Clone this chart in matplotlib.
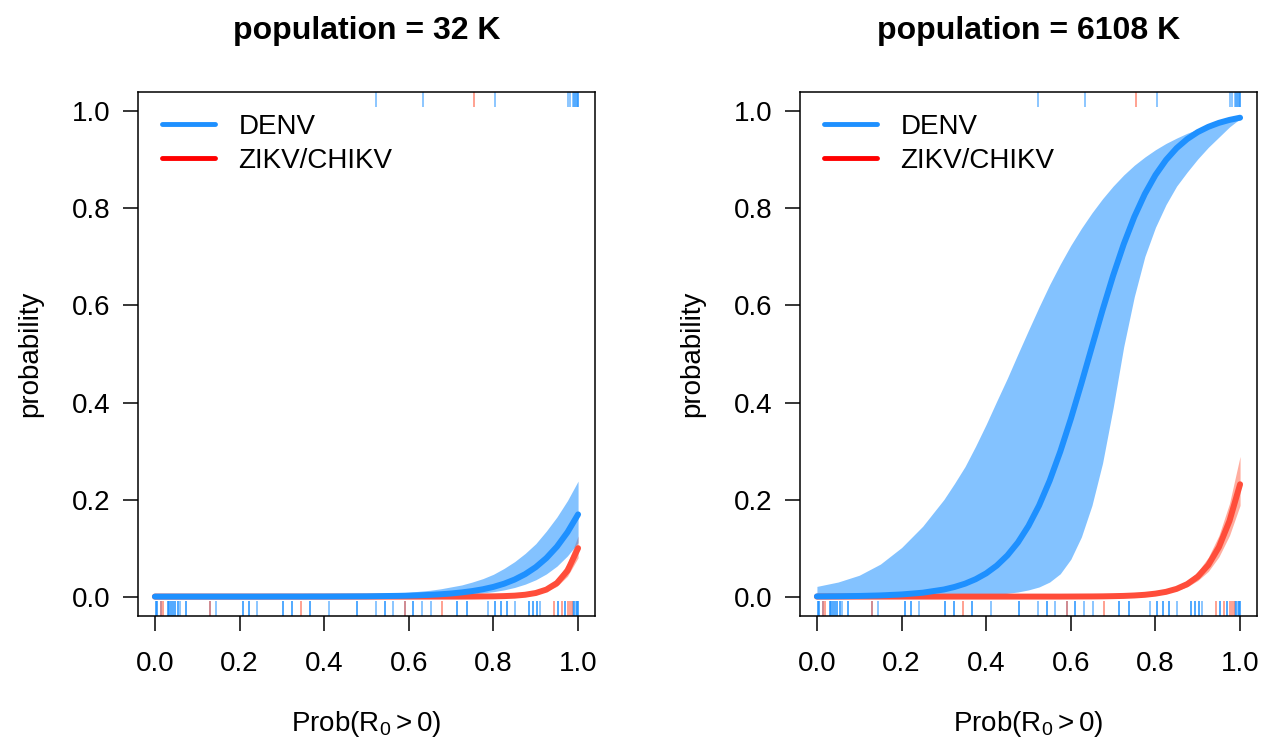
import matplotlib
matplotlib.use("Agg")
import matplotlib.pyplot as plt
from matplotlib.lines import Line2D

plt.rcParams['font.family'] = ['Liberation Sans', 'DejaVu Sans']
plt.rcParams['mathtext.fontset'] = 'custom'
plt.rcParams['mathtext.rm'] = 'Liberation Sans'
plt.rcParams['mathtext.it'] = 'Liberation Sans:italic'
plt.rcParams['mathtext.bf'] = 'Liberation Sans:bold'

# x grid of Prob(R0 > 0) where the fitted curves were read
xs = [0.0, 0.05, 0.1, 0.15, 0.2, 0.25, 0.3, 0.325, 0.35, 0.375, 0.4, 0.425, 0.45, 0.475,
      0.5, 0.525, 0.55, 0.575, 0.6, 0.625, 0.65, 0.675, 0.7, 0.725, 0.75, 0.775,
      0.8, 0.825, 0.85, 0.875, 0.9, 0.925, 0.95, 0.975, 1.0]

# population = 32 K
denv_mean_32 = [0.0, 0.0, 0.0, 0.0, 0.0, 0.0, 0.0001, 0.0001, 0.0001, 0.0002, 0.0002, 0.0003, 0.0004, 0.0005,
                0.0006, 0.0009, 0.0012, 0.0015, 0.0020, 0.0027, 0.0036, 0.0048, 0.0064, 0.0086, 0.0114, 0.0151,
                0.0200, 0.0265, 0.0351, 0.0463, 0.0607, 0.0793, 0.1029, 0.1327, 0.1694]
denv_lo_32 = [0.0, 0.0, 0.0, 0.0, 0.0, 0.0, 0.0, 0.0, 0.0, 0.0, 0.0001, 0.0001, 0.0001, 0.0001,
              0.0002, 0.0003, 0.0004, 0.0006, 0.0008, 0.0011, 0.0015, 0.0021, 0.0029, 0.0040, 0.0055, 0.0075,
              0.0101, 0.0138, 0.0188, 0.0256, 0.0346, 0.0467, 0.0627, 0.084, 0.111]
denv_hi_32 = [0.0002, 0.0003, 0.0004, 0.0005, 0.0007, 0.0009, 0.0012, 0.0014, 0.0016, 0.0019, 0.0023, 0.0027, 0.0032, 0.0038,
              0.0045, 0.0053, 0.0063, 0.0075, 0.009, 0.011, 0.013, 0.016, 0.020, 0.024, 0.030, 0.037,
              0.046, 0.058, 0.072, 0.089, 0.109, 0.135, 0.164, 0.198, 0.238]
zika_mean_32 = [0.0, 0.0, 0.0, 0.0, 0.0, 0.0, 0.0, 0.0, 0.0, 0.0, 0.0, 0.0, 0.0, 0.0,
                0.0, 0.0, 0.0, 0.0, 0.0, 0.0, 0.0, 0.0, 0.0, 0.0, 0.0001, 0.0003,
                0.0005, 0.0010, 0.0019, 0.0038, 0.0074, 0.0144, 0.0279, 0.0534, 0.0998]
zika_lo_32 = [0.0, 0.0, 0.0, 0.0, 0.0, 0.0, 0.0, 0.0, 0.0, 0.0, 0.0, 0.0, 0.0, 0.0,
              0.0, 0.0, 0.0, 0.0, 0.0, 0.0, 0.0, 0.0, 0.0, 0.0, 0.0001, 0.0002,
              0.0003, 0.0007, 0.0013, 0.0027, 0.0055, 0.011, 0.021, 0.042, 0.080]
zika_hi_32 = [0.0, 0.0, 0.0, 0.0, 0.0, 0.0, 0.0, 0.0, 0.0, 0.0, 0.0, 0.0, 0.0, 0.0,
              0.0, 0.0, 0.0, 0.0, 0.0, 0.0, 0.0, 0.0, 0.0, 0.0001, 0.0002, 0.0004,
              0.0008, 0.0015, 0.0028, 0.0053, 0.010, 0.019, 0.036, 0.068, 0.125]

# population = 6108 K
denv_mean_6108 = [0.0004, 0.0007, 0.0013, 0.0024, 0.0044, 0.0080, 0.0146, 0.0198, 0.0266, 0.0358, 0.0479, 0.0639, 0.0848, 0.1116,
                  0.1457, 0.1878, 0.2389, 0.2986, 0.3661, 0.4393, 0.5152, 0.5905, 0.6617, 0.7263, 0.7826, 0.8300,
                  0.8689, 0.8999, 0.9243, 0.9430, 0.9574, 0.9682, 0.9764, 0.9825, 0.9870]
denv_lo_6108 = [0.0, 0.0, 0.0001, 0.0001, 0.0002, 0.0004, 0.0008, 0.0011, 0.0016, 0.0023, 0.0033, 0.0047, 0.0067, 0.0095,
                0.0138, 0.0198, 0.030, 0.047, 0.077, 0.123, 0.188, 0.275, 0.389, 0.515, 0.618, 0.701,
                0.761, 0.808, 0.846, 0.875, 0.902, 0.926, 0.947, 0.968, 0.985]
denv_hi_6108 = [0.021, 0.030, 0.044, 0.067, 0.101, 0.145, 0.200, 0.233, 0.268, 0.310, 0.355, 0.403, 0.450, 0.500,
                0.549, 0.597, 0.643, 0.685, 0.724, 0.759, 0.791, 0.820, 0.846, 0.869, 0.889, 0.906,
                0.921, 0.934, 0.945, 0.955, 0.963, 0.970, 0.976, 0.982, 0.987]
zika_mean_6108 = [0.0, 0.0, 0.0, 0.0, 0.0, 0.0, 0.0, 0.0, 0.0, 0.0, 0.0, 0.0, 0.0, 0.0,
                  0.0, 0.0, 0.0, 0.0, 0.0001, 0.0002, 0.0003, 0.0005, 0.0009, 0.0014, 0.0023, 0.0037,
                  0.0061, 0.0098, 0.0159, 0.0257, 0.0411, 0.0652, 0.102, 0.156, 0.2315]
zika_lo_6108 = [0.0, 0.0, 0.0, 0.0, 0.0, 0.0, 0.0, 0.0, 0.0, 0.0, 0.0, 0.0, 0.0, 0.0,
                0.0, 0.0, 0.0, 0.0, 0.0001, 0.0001, 0.0002, 0.0004, 0.0007, 0.0011, 0.0018, 0.003,
                0.0048, 0.0078, 0.0125, 0.020, 0.033, 0.052, 0.082, 0.126, 0.188]
zika_hi_6108 = [0.0, 0.0, 0.0, 0.0, 0.0, 0.0, 0.0, 0.0, 0.0, 0.0, 0.0, 0.0, 0.0, 0.0,
                0.0, 0.0, 0.0, 0.0, 0.0001, 0.0002, 0.0004, 0.0006, 0.001, 0.0017, 0.0028, 0.0045,
                0.0075, 0.012, 0.020, 0.032, 0.051, 0.081, 0.126, 0.192, 0.289]

# rug data (same locations in both panels)
denv_fail = [0.002, 0.002, 0.005, 0.005, 0.014, 0.030, 0.030, 0.034, 0.034, 0.037, 0.037, 0.042, 0.042,
             0.047, 0.047, 0.054, 0.054, 0.059, 0.073, 0.073, 0.130, 0.144, 0.207, 0.207, 0.223, 0.223,
             0.242, 0.303, 0.303, 0.323, 0.323, 0.366, 0.366, 0.411, 0.478, 0.478, 0.522, 0.544, 0.544,
             0.563, 0.591, 0.611, 0.611, 0.630, 0.652, 0.713, 0.713, 0.737, 0.737, 0.786, 0.804, 0.804,
             0.818, 0.818, 0.831, 0.831, 0.851, 0.883, 0.883, 0.894, 0.894, 0.904, 0.904, 0.910, 0.952,
             0.952, 0.969, 0.969, 0.988, 0.991, 0.991, 0.994, 0.997, 0.997, 1.0, 1.0]
zika_fail = [0.014, 0.019, 0.130, 0.346, 0.591, 0.678, 0.944, 0.963, 0.977, 0.981, 0.985]
denv_ok = [0.522, 0.633, 0.804, 0.976, 0.981, 0.987, 0.990, 0.993, 0.996, 0.998, 1.0, 1.0]
zika_ok = [0.753]

panels = [
    ("population = 32 K", denv_mean_32, denv_lo_32, denv_hi_32, zika_mean_32, zika_lo_32, zika_hi_32),
    ("population = 6108 K", denv_mean_6108, denv_lo_6108, denv_hi_6108, zika_mean_6108, zika_lo_6108, zika_hi_6108),
]

BLUE = '#1E90FF'
RED_LINE = '#FF4D3A'
RED_BAND = '#FFAD9F'
FS = 20

W, H = 1270, 741
fig = plt.figure(figsize=(W / 100, H / 100), dpi=100)
lefts = [138, 800]
ax_w, ax_top, ax_bot = 457, 92, 616

for left, (title, dm, dlo, dhi, zm, zlo, zhi) in zip(lefts, panels):
    ax = fig.add_axes([left / W, 1 - ax_bot / H, ax_w / W, (ax_bot - ax_top) / H])

    ax.fill_between(xs, zlo, zhi, color=RED_BAND, lw=0)
    ax.plot(xs, zm, color=RED_LINE, lw=4.3, solid_capstyle='round', solid_joinstyle='round')
    ax.fill_between(xs, dlo, dhi, color=BLUE, alpha=0.55, lw=0)
    ax.plot(xs, dm, color=BLUE, lw=4.3, solid_capstyle='round', solid_joinstyle='round')

    tr = ax.get_xaxis_transform()
    ax.vlines(denv_fail, 0, 0.028, transform=tr, color=BLUE, alpha=0.6, lw=1.2)
    ax.vlines(zika_fail, 0, 0.028, transform=tr, color='#FF6347', alpha=0.7, lw=1.2)
    ax.vlines(denv_ok, 0.972, 1, transform=tr, color=BLUE, alpha=0.6, lw=1.2)
    ax.vlines(zika_ok, 0.972, 1, transform=tr, color='#FF6347', alpha=0.7, lw=1.2)

    ax.set_xlim(-0.04, 1.04)
    ax.set_ylim(-0.04, 1.04)
    ticks = [0.0, 0.2, 0.4, 0.6, 0.8, 1.0]
    ax.set_xticks(ticks)
    ax.set_yticks(ticks)
    ax.set_xticklabels([f"{t:.1f}" for t in ticks])
    ax.set_yticklabels([f"{t:.1f}" for t in ticks])
    ax.tick_params(labelsize=FS, length=11, width=1.1, direction='out')
    ax.tick_params(axis='x', pad=14)
    ax.tick_params(axis='y', pad=9)
    for s in ax.spines.values():
        s.set_linewidth(1.1)

    handles = [Line2D([], [], color=BLUE, lw=3.5, solid_capstyle='round'),
               Line2D([], [], color='red', lw=3.5, solid_capstyle='round')]
    ax.legend(handles, ["DENV", "ZIKV/CHIKV"], loc='upper left', bbox_to_anchor=(0.0525, 0.958),
              frameon=False, fontsize=FS, handlelength=1.9, handletextpad=0.85,
              labelspacing=0.27, borderpad=0, borderaxespad=0)

    xc = (left + ax_w / 2) / W
    fig.text(xc, 1 - 39 / H, title, ha='center', va='baseline', fontsize=23, fontweight='bold')
    fig.text(xc, 1 - 724 / H, r'Prob$(\mathrm{R}_0 > 0)$', ha='center', va='center', fontsize=FS)
    fig.text((left - 101) / W, 1 - (ax_top + ax_bot) / 2 / H, "probability", rotation=90,
             rotation_mode='anchor', ha='center', va='baseline', fontsize=FS)

fig.savefig("out.png", dpi=100, facecolor='white')
